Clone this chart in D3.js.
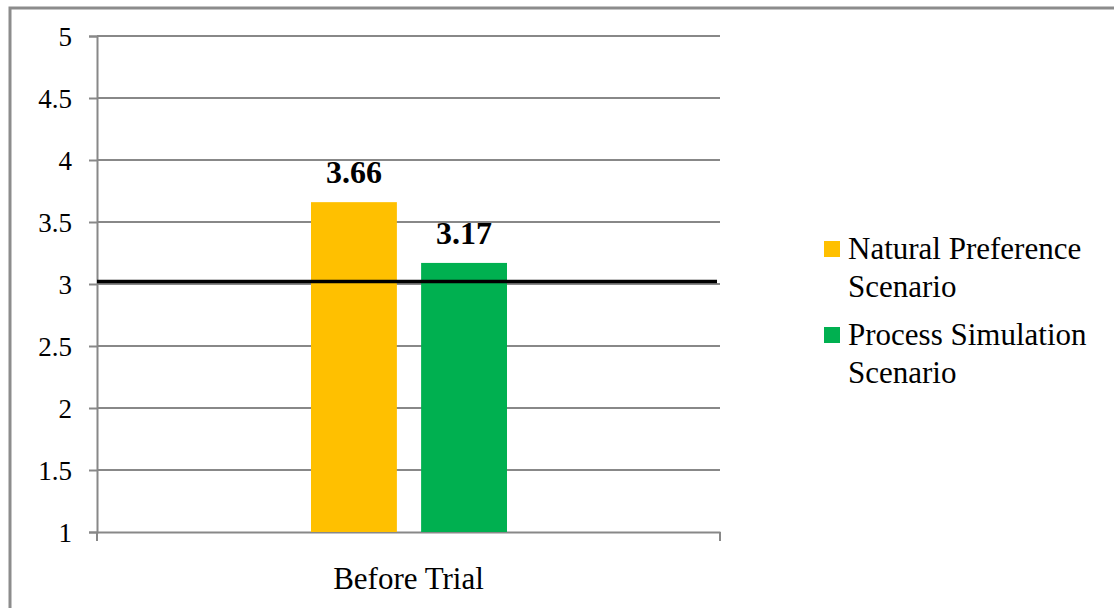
<!DOCTYPE html>
<html>
<head>
<meta charset="utf-8">
<script src="https://cdn.jsdelivr.net/npm/d3@7"></script>
<style>
  html, body { margin: 0; padding: 0; background: #fff; }
  svg { display: block; }
  svg text { font-family: "Liberation Serif", "Times New Roman", serif !important; fill: #000; }
</style>
</head>
<body>
<svg id="chart" width="1114" height="608"></svg>
<script>
// Mean ratings by scenario
const categories = ["Before Trial"];
const seriesNames = ["Natural Preference Scenario", "Process Simulation Scenario"];
const legendLines = [["Natural Preference", "Scenario"], ["Process Simulation", "Scenario"]];
const seriesValues = [[3.66], [3.17]];
const seriesColors = ["#FFC000", "#00B050"];
const yTicks = [1, 1.5, 2, 2.5, 3, 3.5, 4, 4.5, 5];
const referenceValue = 3.02;

const svg = d3.select("#chart");

// Outer frame
svg.append("rect")
  .attr("x", 10).attr("y", 8)
  .attr("width", 1120).attr("height", 620)
  .attr("fill", "none").attr("stroke", "#8c8c8c").attr("stroke-width", 3);

const plot = { left: 97, right: 720, top: 36, bottom: 532 };

const y = d3.scaleLinear().domain([1, 5]).range([plot.bottom, plot.top]);
const x0 = d3.scaleBand().domain(categories).range([plot.left, plot.right]).padding(0);
const x1 = d3.scaleBand().domain(d3.range(seriesNames.length))
  .range([311 - plot.left, 507 - plot.left]).paddingInner(0.22).paddingOuter(0);

// Gridlines
svg.append("g").selectAll("line").data(yTicks.filter(t => t > 1)).join("line")
  .attr("x1", plot.left).attr("x2", plot.right)
  .attr("y1", d => y(d)).attr("y2", d => y(d))
  .attr("stroke", "#888").attr("stroke-width", 2);

// Y axis
const yAxis = svg.append("g").attr("transform", `translate(${plot.left},0)`)
  .call(d3.axisLeft(y).tickValues(yTicks).tickSize(8).tickPadding(17)
    .tickFormat(d => d3.format("")(d)));
yAxis.select(".domain").attr("stroke", "#888").attr("stroke-width", 2);
yAxis.selectAll(".tick line").attr("stroke", "#888").attr("stroke-width", 2);
yAxis.selectAll(".tick text").attr("font-size", 27).attr("dy", "0.36em");

// X axis
const xAxis = svg.append("g").attr("transform", `translate(0,${plot.bottom})`)
  .call(d3.axisBottom(x0).tickSize(0).tickPadding(35));
xAxis.select(".domain").attr("stroke", "#888").attr("stroke-width", 2);
xAxis.selectAll(".tick text").attr("font-size", 31);
// Category boundary ticks
svg.append("g").selectAll("line").data([plot.left, plot.right]).join("line")
  .attr("x1", d => d).attr("x2", d => d)
  .attr("y1", plot.bottom).attr("y2", plot.bottom + 9)
  .attr("stroke", "#888").attr("stroke-width", 2);

// Bars
const groups = svg.append("g").selectAll("g").data(categories).join("g")
  .attr("transform", c => `translate(${x0(c)},0)`);
seriesNames.forEach((name, si) => {
  groups.append("rect")
    .attr("x", x1(si)).attr("width", x1.bandwidth())
    .attr("y", (c, ci) => y(seriesValues[si][ci]))
    .attr("height", (c, ci) => plot.bottom - y(seriesValues[si][ci]))
    .attr("fill", seriesColors[si]);
  groups.append("text")
    .attr("x", x1(si) + x1.bandwidth() / 2)
    .attr("y", (c, ci) => y(seriesValues[si][ci]) - 19)
    .attr("text-anchor", "middle")
    .attr("font-size", 32).attr("font-weight", "bold")
    .text((c, ci) => d3.format(".2f")(seriesValues[si][ci]));
});

// Reference line
svg.append("line")
  .attr("x1", plot.left).attr("x2", plot.right - 3)
  .attr("y1", y(referenceValue)).attr("y2", y(referenceValue))
  .attr("stroke", "#000").attr("stroke-width", 3.5);

// Legend
const legend = svg.append("g");
legendLines.forEach((lines, i) => {
  const top = 241 + i * 86;
  legend.append("rect").attr("x", 824).attr("y", top).attr("width", 16).attr("height", 16)
    .attr("fill", seriesColors[i]);
  const t = legend.append("text").attr("x", 848).attr("y", top + 18).attr("font-size", 31);
  lines.forEach((ln, j) => {
    t.append("tspan").attr("x", 848).attr("dy", j === 0 ? 0 : 38).text(ln);
  });
});
</script>
</body>
</html>
